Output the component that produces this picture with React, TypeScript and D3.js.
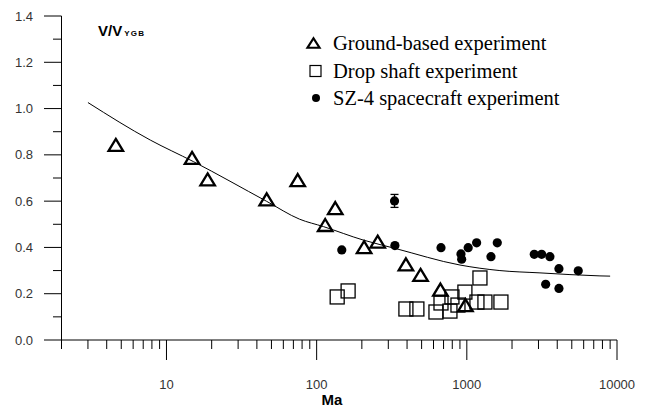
import React from "react";
import * as d3 from "d3";

// Ground-based experiment (triangles)
const gbMa = [4.6, 14.8, 18.8, 46.5, 74.8, 133, 114, 207, 255, 393, 492, 667, 979];
const gbV = [0.843, 0.787, 0.694, 0.608, 0.691, 0.57, 0.497, 0.401, 0.425, 0.327, 0.281, 0.218, 0.151];

// Drop shaft experiment (squares)
const dsMa = [137, 162, 393, 465, 623, 673, 772, 796, 971, 1223, 1168, 1320, 1687, 873];
const dsV = [0.186, 0.212, 0.134, 0.134, 0.121, 0.16, 0.125, 0.186, 0.207, 0.268, 0.164, 0.164, 0.164, 0.151];

// SZ-4 spacecraft experiment (dots)
const szMa = [147, 330, 332, 673, 914, 924, 1021, 1162, 1595, 1448, 2812, 3148, 3575, 4105, 5520, 3350, 4105];
const szV = [0.389, 0.601, 0.408, 0.399, 0.372, 0.349, 0.399, 0.42, 0.42, 0.36, 0.37, 0.37, 0.36, 0.308, 0.299, 0.241, 0.223];

// error bar
const errMa = [330];
const errV = [0.601];
const errHalf = [0.028];

// fitted curve
const fitMa = [3, 7.8, 15.1, 46.5, 77, 111, 204, 332, 900, 1660, 3070, 7700, 9000];
const fitV = [1.026, 0.864, 0.771, 0.599, 0.522, 0.49, 0.432, 0.396, 0.324, 0.3, 0.29, 0.277, 0.276];

const xMajor = [10, 100, 1000, 10000];
const xMajorLabels = ["10", "100", "1000", "10000"];
const yMajor = [0, 0.2, 0.4, 0.6, 0.8, 1.0, 1.2, 1.4];
const yMinor = [0.1, 0.3, 0.5, 0.7, 0.9, 1.1, 1.3];

const legendLabels = ["Ground-based experiment", "Drop shaft experiment", "SZ-4 spacecraft experiment"];

export default function App() {
  const W = 645, H = 408;
  const x = d3.scaleLog().domain([2, 10000]).range([61.5, 617]);
  const y = d3.scaleLinear().domain([0, 1.4]).range([340, 16]);

  const xMinor: number[] = [];
  for (let dec = 1; dec <= 1000; dec *= 10) {
    for (let k = 2; k <= 9; k++) {
      const v = k * dec;
      if (v >= 2 && v <= 10000) xMinor.push(v);
    }
  }

  const line = d3
    .line<number>()
    .x((_, i) => x(fitMa[i]))
    .y((_, i) => y(fitV[i]))
    .curve(d3.curveMonotoneX);

  const tri = (cx: number, cy: number, w: number, h: number) =>
    `M${cx},${cy - h / 2}L${cx + w / 2},${cy + h / 2}L${cx - w / 2},${cy + h / 2}Z`;

  const sansFont = "'Liberation Sans', Arial, sans-serif";
  const serifFont = "'Liberation Serif', 'Times New Roman', serif";

  const legendY = [43, 71, 98];

  return (
    <svg
      width={W}
      height={H}
      style={{ position: "absolute", left: 0, top: 0, display: "block", background: "#fff" }}
    >
      {/* axes */}
      <line x1={61.5} y1={16} x2={61.5} y2={340} stroke="#000" strokeWidth={1} />
      <line x1={61.5} y1={340} x2={617} y2={340} stroke="#000" strokeWidth={1} />

      {/* y ticks */}
      {yMajor.map((v) => (
        <g key={"ym" + v}>
          <line x1={44} x2={61.5} y1={y(v)} y2={y(v)} stroke="#000" strokeWidth={1} />
          <text
            x={33}
            y={y(v) + 4.5}
            textAnchor="end"
            fontFamily={sansFont}
            fontSize={13}
            fill="#333"
          >
            {v.toFixed(1)}
          </text>
        </g>
      ))}
      {yMinor.map((v) => (
        <line key={"yn" + v} x1={53} x2={61.5} y1={y(v)} y2={y(v)} stroke="#000" strokeWidth={1} />
      ))}

      {/* x ticks */}
      {xMinor.map((v) => (
        <line key={"xn" + v} x1={x(v)} x2={x(v)} y1={340} y2={349} stroke="#000" strokeWidth={1} />
      ))}
      {xMajor.map((v, i) => (
        <g key={"xm" + v}>
          <line x1={x(v)} x2={x(v)} y1={340} y2={360} stroke="#000" strokeWidth={1} />
          <text
            x={x(v)}
            y={389}
            textAnchor="middle"
            fontFamily={sansFont}
            fontSize={13}
            fill="#333"
          >
            {xMajorLabels[i]}
          </text>
        </g>
      ))}

      {/* axis titles */}
      <text x={332} y={405} textAnchor="middle" fontFamily={sansFont} fontSize={15} fontWeight="bold" fill="#000">
        Ma
      </text>
      <text x={98} y={36} fontFamily={sansFont} fontSize={15} fontWeight="bold" fill="#000">
        V/V
        <tspan fontSize={8} dx={2} letterSpacing={1.2}>YGB</tspan>
      </text>

      {/* fitted line */}
      <path d={line(fitMa) || ""} fill="none" stroke="#000" strokeWidth={1} />

      {/* drop shaft squares */}
      {dsMa.map((m, i) => (
        <rect
          key={"ds" + i}
          x={x(m) - 7}
          y={y(dsV[i]) - 7}
          width={14}
          height={14}
          fill="none"
          stroke="#000"
          strokeWidth={1.3}
        />
      ))}

      {/* ground based triangles */}
      {gbMa.map((m, i) => (
        <path
          key={"gb" + i}
          d={tri(x(m), y(gbV[i]), 14.5, 12)}
          fill="none"
          stroke="#000"
          strokeWidth={2.3}
          strokeLinejoin="miter"
        />
      ))}

      {/* SZ-4 dots */}
      {szMa.map((m, i) => (
        <circle key={"sz" + i} cx={x(m)} cy={y(szV[i])} r={4.6} fill="#000" />
      ))}
      {errMa.map((m, i) => (
        <g key={"er" + i} stroke="#000" strokeWidth={1.3}>
          <line x1={x(m)} x2={x(m)} y1={y(errV[i] + errHalf[i])} y2={y(errV[i] - errHalf[i])} />
          <line x1={x(m) - 4} x2={x(m) + 4} y1={y(errV[i] + errHalf[i])} y2={y(errV[i] + errHalf[i])} />
          <line x1={x(m) - 4} x2={x(m) + 4} y1={y(errV[i] - errHalf[i])} y2={y(errV[i] - errHalf[i])} />
        </g>
      ))}

      {/* legend */}
      <path d={tri(313.5, legendY[0], 12, 9.5)} fill="none" stroke="#000" strokeWidth={2.2} />
      <rect x={310} y={legendY[1] - 5.5} width={11} height={11} fill="none" stroke="#000" strokeWidth={1.2} />
      <circle cx={316} cy={legendY[2]} r={4} fill="#000" />
      {legendLabels.map((t, i) => (
        <text key={"lg" + i} x={333} y={legendY[i] + 6.5} fontFamily={serifFont} fontSize={20.5} fill="#000">
          {t}
        </text>
      ))}
    </svg>
  );
}
